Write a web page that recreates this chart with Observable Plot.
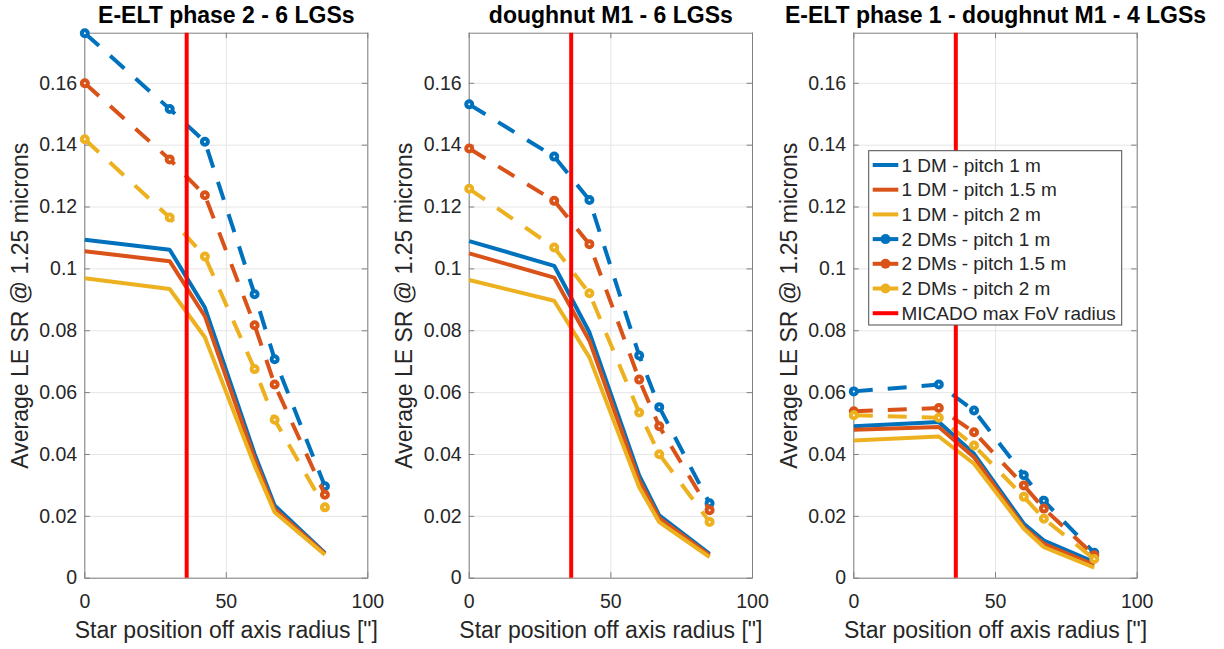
<!DOCTYPE html>
<html><head><meta charset="utf-8">
<script src="https://cdn.jsdelivr.net/npm/d3@7"></script>
<script src="https://cdn.jsdelivr.net/npm/@observablehq/plot@0.6"></script>
<style>
html,body{margin:0;padding:0;background:#fff;}
#chart{position:relative;width:1224px;height:649px;overflow:hidden;background:#fff;}
#chart svg{position:absolute;top:0;overflow:visible;}
</style></head><body><div id="chart"></div>
<script>
// ---- data ----
const starRadius = [0, 30, 42.43, 60, 67.08, 84.85];
const micadoFovRadius = [36];
const xTickValues = [0, 50, 100];
const yTickValues = [0, 0.02, 0.04, 0.06, 0.08, 0.1, 0.12, 0.14, 0.16];
const titles = ["E-ELT phase 2 - 6 LGSs", "doughnut M1 - 6 LGSs", "E-ELT phase 1 - doughnut M1 - 4 LGSs"];
const seriesNames = ["1 DM - pitch 1 m", "1 DM - pitch 1.5 m", "1 DM - pitch 2 m",
  "2 DMs - pitch 1 m", "2 DMs - pitch 1.5 m", "2 DMs - pitch 2 m", "MICADO max FoV radius"];
const xLabel = "Star position off axis radius [\"]";
const yLabel = "Average LE SR @ 1.25 microns";

// panel 1: E-ELT phase 2 - 6 LGSs
const p1_1DM_1m  = [0.1094, 0.1062, 0.0875, 0.0402, 0.0235, 0.0082];
const p1_1DM_15m = [0.1057, 0.1025, 0.0847, 0.0386, 0.0224, 0.0079];
const p1_1DM_2m  = [0.0970, 0.0935, 0.0779, 0.0364, 0.0213, 0.0076];
const p1_2DM_1m  = [0.1762, 0.1517, 0.1411, 0.0918, 0.0708, 0.0297];
const p1_2DM_15m = [0.1600, 0.1354, 0.1238, 0.0818, 0.0626, 0.0270];
const p1_2DM_2m  = [0.1419, 0.1166, 0.1040, 0.0676, 0.0512, 0.0229];
// panel 2: doughnut M1 - 6 LGSs
const p2_1DM_1m  = [0.1090, 0.1010, 0.0795, 0.0332, 0.0203, 0.0079];
const p2_1DM_15m = [0.1050, 0.0972, 0.0768, 0.0316, 0.0194, 0.0074];
const p2_1DM_2m  = [0.0964, 0.0897, 0.0714, 0.0294, 0.0181, 0.0068];
const p2_2DM_1m  = [0.1532, 0.1363, 0.1223, 0.0720, 0.0553, 0.0242];
const p2_2DM_15m = [0.1389, 0.1220, 0.1080, 0.0642, 0.0491, 0.0220];
const p2_2DM_2m  = [0.1259, 0.1069, 0.0921, 0.0536, 0.0401, 0.0182];
// panel 3: E-ELT phase 1 - doughnut M1 - 4 LGSs
const p3_1DM_1m  = [0.0491, 0.0505, 0.0402, 0.0176, 0.0122, 0.0052];
const p3_1DM_15m = [0.0480, 0.0489, 0.0391, 0.0165, 0.0111, 0.0043];
const p3_1DM_2m  = [0.0445, 0.0458, 0.0370, 0.0160, 0.0100, 0.0034];
const p3_2DM_1m  = [0.0604, 0.0626, 0.0542, 0.0333, 0.0250, 0.0082];
const p3_2DM_15m = [0.0540, 0.0550, 0.0472, 0.0300, 0.0225, 0.0074];
const p3_2DM_2m  = [0.0527, 0.0519, 0.0429, 0.0263, 0.0192, 0.0062];

const colors = ["#0072BD", "#D95319", "#EDB120"];
const red = "#FF0000";
const font = "'Liberation Sans', Arial, Helvetica, sans-serif";
const yMax = 0.1762;

// ---- layout ----
const layout = [
  {left: 0,   width: 400, ml: 84.3, mr: 32.7},
  {left: 400, width: 390, ml: 68.7, mr: 38.0},
  {left: 790, width: 434, ml: 63.3, mr: 87.3}
];
const panelSeries = [
  {solid: [p1_1DM_1m, p1_1DM_15m, p1_1DM_2m], dashed: [p1_2DM_1m, p1_2DM_15m, p1_2DM_2m]},
  {solid: [p2_1DM_1m, p2_1DM_15m, p2_1DM_2m], dashed: [p2_2DM_1m, p2_2DM_15m, p2_2DM_2m]},
  {solid: [p3_1DM_1m, p3_1DM_15m, p3_1DM_2m], dashed: [p3_2DM_1m, p3_2DM_15m, p3_2DM_2m]}
];

const H = 649, MT = 32.7, MB = 649 - 577.7;
const fmt = d => String(+d.toFixed(2));
const rows = vals => starRadius.map((x, i) => ({x, y: vals[i]}));
const chart = document.getElementById("chart");

panelSeries.forEach((ps, k) => {
  const L = layout[k];
  const frameW = L.width - L.ml - L.mr;
  const frameH = H - MT - MB;
  const tickPx = 5.5;
  const tx = tickPx / frameW * 100;      // tick length in x units
  const ty = tickPx / frameH * yMax;     // tick length in y units
  const marks = [
    Plot.gridY(yTickValues, {stroke: "#e6e6e6", strokeOpacity: 1}),
    Plot.gridX(xTickValues, {stroke: "#e6e6e6", strokeOpacity: 1}),
    Plot.ruleY(yTickValues, {x1: 0, x2: tx, stroke: "#808080"}),
    Plot.ruleY(yTickValues, {x1: 100 - tx, x2: 100, stroke: "#808080"}),
    Plot.ruleX(xTickValues, {y1: 0, y2: ty, stroke: "#808080"}),
    Plot.ruleX(xTickValues, {y1: yMax - ty, y2: yMax, stroke: "#808080"}),
    Plot.frame({stroke: "#808080", strokeWidth: 1}),
    Plot.axisY({ticks: yTickValues, tickSize: 0, tickPadding: 7.6, tickFormat: fmt, fontSize: 19.5, fill: "#262626", label: null}),
    Plot.axisX({ticks: xTickValues, tickSize: 0, tickPadding: 15.6, tickFormat: fmt, fontSize: 19.5, fill: "#262626", label: null})
  ];
  ps.solid.forEach((v, i) => marks.push(
    Plot.line(rows(v), {x: "x", y: "y", stroke: colors[i], strokeWidth: 4, strokeLinejoin: "miter", strokeLinecap: "butt"})));
  ps.dashed.forEach((v, i) => {
    marks.push(Plot.line(rows(v), {x: "x", y: "y", stroke: colors[i], strokeWidth: 4, strokeDasharray: "19,15", strokeLinecap: "butt"}));
    marks.push(Plot.dot(rows(v), {x: "x", y: "y", r: 3, stroke: colors[i], strokeWidth: 4, fill: "white"}));
  });
  marks.push(Plot.ruleX(micadoFovRadius, {stroke: red, strokeWidth: 4}));
  marks.push(Plot.text([titles[k]], {text: d => d, frameAnchor: "top", dy: -18, fontSize: 23, fontWeight: "bold", fill: "#000", lineAnchor: "middle"}));
  marks.push(Plot.text([xLabel], {text: d => d, frameAnchor: "bottom", dy: 52.3, fontSize: 23, fill: "#262626", lineAnchor: "middle"}));
  marks.push(Plot.text([yLabel], {text: d => d, frameAnchor: "left", dx: -64.5, rotate: -90, textAnchor: "middle", fontSize: 23, fill: "#262626", lineAnchor: "middle"}));

  const svg = Plot.plot({
    width: L.width, height: H,
    marginLeft: L.ml, marginRight: L.mr, marginTop: MT, marginBottom: MB,
    x: {domain: [0, 100]},
    y: {domain: [0, yMax]},
    style: {fontFamily: font, color: "#262626", background: "transparent", overflow: "visible"},
    marks
  });
  svg.style.left = L.left + "px";
  chart.appendChild(svg);
});

// ---- legend (panel 3) ----
const leg = d3.select(chart).append("svg")
  .attr("width", 1224).attr("height", 649)
  .style("left", "0px").style("pointer-events", "none");
const lx0 = 868.7, ly0 = 150.7, lw = 253, lh = 174.3;
leg.append("rect").attr("x", lx0).attr("y", ly0).attr("width", lw).attr("height", lh)
  .attr("fill", "#fff").attr("stroke", "#4d4d4d").attr("stroke-width", 1);
const legColors = [colors[0], colors[1], colors[2], colors[0], colors[1], colors[2], red];
seriesNames.forEach((name, i) => {
  const cy = 165 + i * 24.7;
  leg.append("line").attr("x1", 872.7).attr("x2", 898.3).attr("y1", cy).attr("y2", cy)
    .attr("stroke", legColors[i]).attr("stroke-width", 4);
  if (i >= 3 && i < 6) {
    leg.append("circle").attr("cx", 885.5).attr("cy", cy).attr("r", 5).attr("fill", legColors[i]);
  }
  leg.append("text").attr("x", 901.5).attr("y", cy).attr("dy", "0.35em")
    .attr("font-family", font).attr("font-size", 19).attr("fill", "#262626").text(name);
});
</script></body></html>
